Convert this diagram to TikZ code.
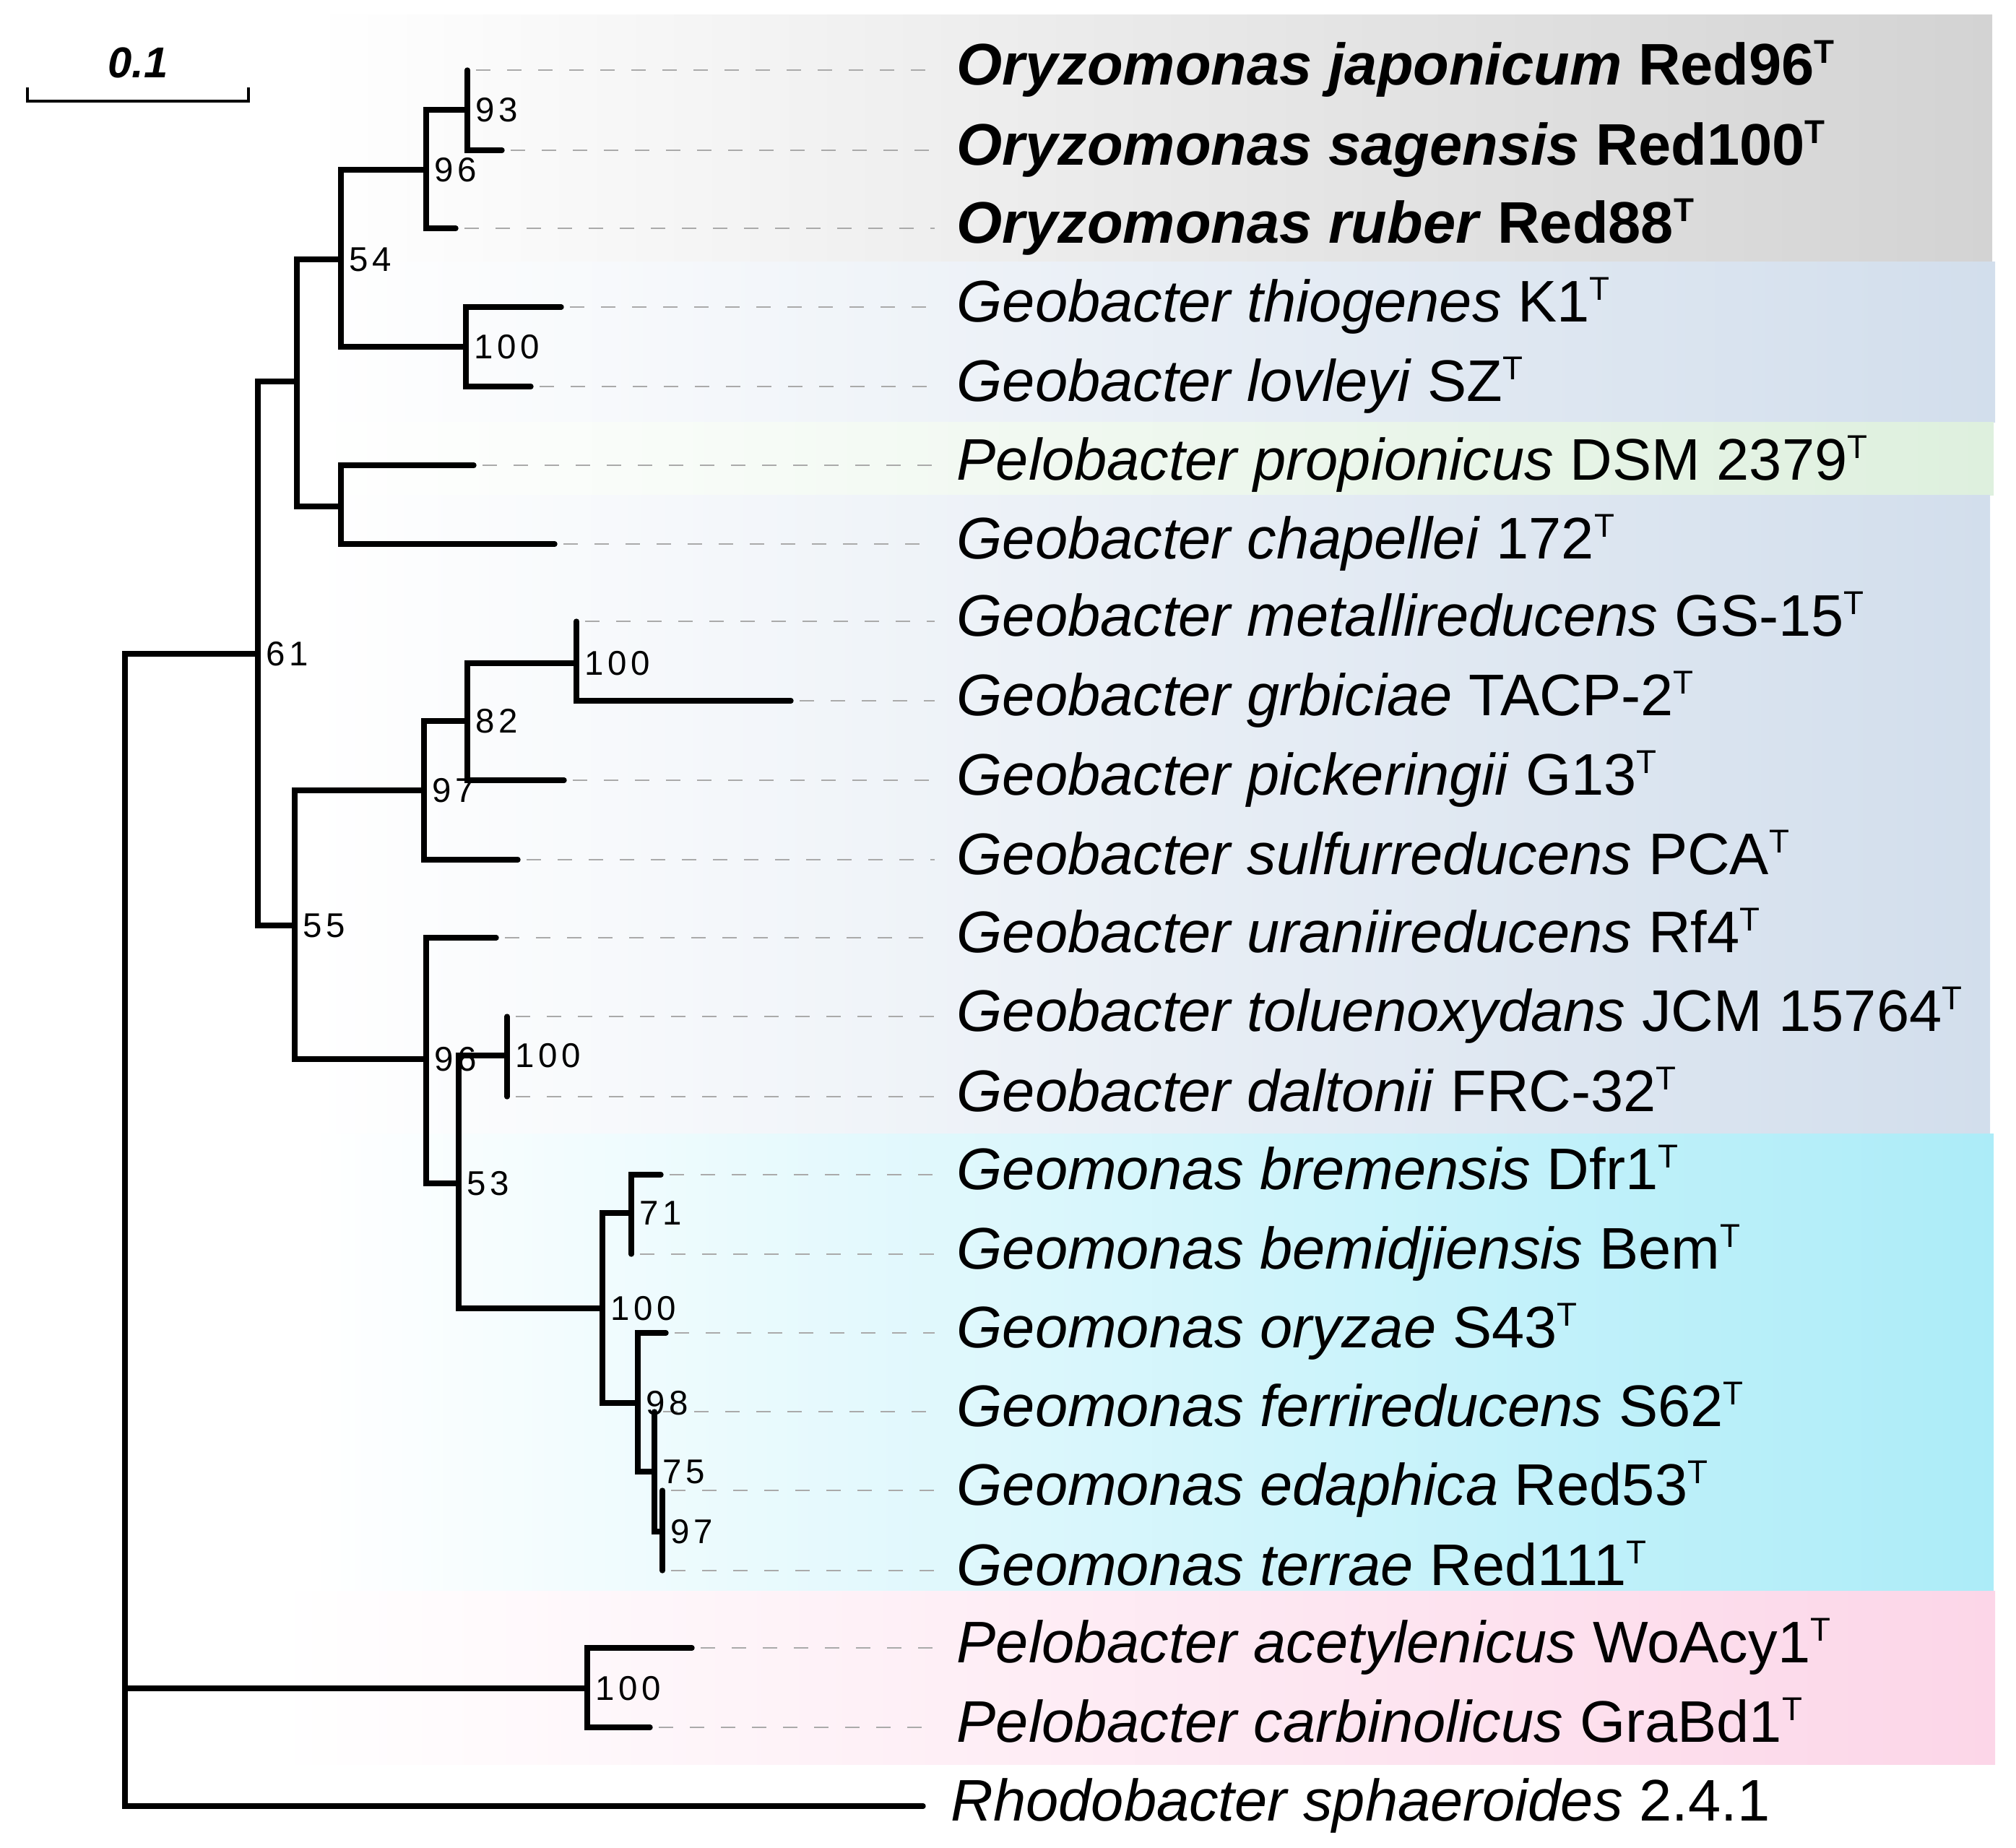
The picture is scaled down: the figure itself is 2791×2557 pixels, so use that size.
\documentclass[tikz,border=0pt]{standalone}
\usepackage{fontspec}
\setmainfont{Liberation Sans}
\newfontfamily\bootfont[LetterSpace=12]{Liberation Sans}
\usepackage{xcolor}
\usepackage{tikz}

\definecolor{oryzoband}{RGB}{211,211,211}
\definecolor{geobacband}{RGB}{210,222,236}
\definecolor{propioband}{RGB}{222,240,222}
\definecolor{geomonband}{RGB}{172,236,248}
\definecolor{peloband}{RGB}{252,214,232}
\definecolor{leadgray}{RGB}{170,170,170}

\newcommand{\typestr}{\raisebox{0.36em}{\fontsize{13}{13}\selectfont T}}

\begin{document}
\begin{tikzpicture}[
        x=0.01cm, y=-0.01cm,
        branch/.style={line width=2.1pt, line cap=round},
        leader/.style={draw=leadgray, line width=0.6pt, dash pattern=on 0.2cm off 0.23cm, shorten <=0.12cm, shorten >=0.3cm},
        leaf/.style={anchor=base west, inner sep=0pt, yshift=-0.2cm, font=\fontsize{23.1}{27}\selectfont},
        boot/.style={anchor=west, inner sep=0pt, xshift=0.11cm, font=\bootfont\fontsize{13.5}{15}\selectfont},
        scalebar/.style={line width=1.1pt}
        ]
        \useasboundingbox (0,0) rectangle (2791,2557);

        % Clade backgrounds
        \shade[left color=white, right color=oryzoband] (430,20) rectangle (2758,362);
        \shade[left color=white, right color=geobacband] (430,362) rectangle (2762,584);
        \shade[left color=white, right color=propioband] (430,584) rectangle (2760,685);
        \shade[left color=white, right color=geobacband] (430,685) rectangle (2755,1569);
        \shade[left color=white, right color=geomonband] (430,1569) rectangle (2760,2202);
        \shade[left color=white, right color=peloband] (380,2202) rectangle (2762,2442);

        % Scale bar
        \draw[scalebar] (38,121) |- (344,140) -- (344,121);
        \node[font=\bfseries\itshape\fontsize{17}{20}\selectfont] (scale) at (191,87) {0.1};

        % Leaf tips
        \coordinate (t1) at (647,97);
        \coordinate (t2) at (695,208);
        \coordinate (t3) at (631,316);
        \coordinate (t4) at (777,425);
        \coordinate (t5) at (735,535);
        \coordinate (t6) at (656,644);
        \coordinate (t7) at (768,753);
        \coordinate (t8) at (798,860);
        \coordinate (t9) at (1095,970);
        \coordinate (t10) at (781,1080);
        \coordinate (t11) at (717,1190);
        \coordinate (t12) at (687,1298);
        \coordinate (t13) at (702,1407);
        \coordinate (t14) at (702,1518);
        \coordinate (t15) at (915,1626);
        \coordinate (t16) at (874,1736);
        \coordinate (t17) at (922,1845);
        \coordinate (t18) at (906,1954);
        \coordinate (t19) at (917,2063);
        \coordinate (t20) at (917,2174);
        \coordinate (t21) at (958,2281);
        \coordinate (t22) at (900,2391);
        \coordinate (t23) at (1278,2500);

        % Internal nodes
        \coordinate (n93) at (647,152);
        \coordinate (n96a) at (590,235);
        \coordinate (n100a) at (645,480);
        \coordinate (n54) at (472,359);
        \coordinate (nPC) at (472,701);
        \coordinate (nA) at (411,528);
        \coordinate (n100b) at (798,918);
        \coordinate (n82) at (647,998);
        \coordinate (n97a) at (587,1094);
        \coordinate (n100c) at (702,1461);
        \coordinate (n71) at (874,1679);
        \coordinate (n97b) at (917,2120);
        \coordinate (n75) at (906,2037);
        \coordinate (n98) at (883,1942);
        \coordinate (n100d) at (834,1811);
        \coordinate (n53) at (635,1638);
        \coordinate (n96b) at (590,1466);
        \coordinate (n55) at (408,1281);
        \coordinate (n61) at (357,905);
        \coordinate (nPel) at (813,2337);
        \coordinate (root) at (173,2337);

        % Taxa
        \node[leaf] (l1) at (1324,97) {\textbf{\textit{Oryzomonas japonicum} Red96\typestr}};
        \node[leaf] (l2) at (1324,208) {\textbf{\textit{Oryzomonas sagensis} Red100\typestr}};
        \node[leaf] (l3) at (1324,316) {\textbf{\textit{Oryzomonas ruber} Red88\typestr}};
        \node[leaf] (l4) at (1324,425) {\textit{Geobacter thiogenes} K1\typestr};
        \node[leaf] (l5) at (1324,535) {\textit{Geobacter lovleyi} SZ\typestr};
        \node[leaf] (l6) at (1324,644) {\textit{Pelobacter propionicus} DSM 2379\typestr};
        \node[leaf] (l7) at (1324,753) {\textit{Geobacter chapellei} 172\typestr};
        \node[leaf] (l8) at (1324,860) {\textit{Geobacter metallireducens} GS-15\typestr};
        \node[leaf] (l9) at (1324,970) {\textit{Geobacter grbiciae} TACP-2\typestr};
        \node[leaf] (l10) at (1324,1080) {\textit{Geobacter pickeringii} G13\typestr};
        \node[leaf] (l11) at (1324,1190) {\textit{Geobacter sulfurreducens} PCA\typestr};
        \node[leaf] (l12) at (1324,1298) {\textit{Geobacter uraniireducens} Rf4\typestr};
        \node[leaf] (l13) at (1324,1407) {\textit{Geobacter toluenoxydans} JCM 15764\typestr};
        \node[leaf] (l14) at (1324,1518) {\textit{Geobacter daltonii} FRC-32\typestr};
        \node[leaf] (l15) at (1324,1626) {\textit{Geomonas bremensis} Dfr1\typestr};
        \node[leaf] (l16) at (1324,1736) {\textit{Geomonas bemidjiensis} Bem\typestr};
        \node[leaf] (l17) at (1324,1845) {\textit{Geomonas oryzae} S43\typestr};
        \node[leaf] (l18) at (1324,1954) {\textit{Geomonas ferrireducens} S62\typestr};
        \node[leaf] (l19) at (1324,2063) {\textit{Geomonas edaphica} Red53\typestr};
        \node[leaf] (l20) at (1324,2174) {\textit{Geomonas terrae} Red111\typestr};
        \node[leaf] (l21) at (1324,2281) {\textit{Pelobacter acetylenicus} WoAcy1\typestr};
        \node[leaf] (l22) at (1324,2391) {\textit{Pelobacter carbinolicus} GraBd1\typestr};
        \node[leaf] (l23) at (1316,2500) {\textit{Rhodobacter sphaeroides} 2.4.1};

        % Dashed leaders
        \foreach \i in {1,...,22}
            \draw[leader] (t\i) -- (t\i -| l\i.west);

        % Bootstrap values
        \foreach \n/\v in {n93/93, n96a/96, n54/54, n100a/100, n61/61, n100b/100, n82/82, n97a/97, n55/55,
                n96b/96, n100c/100, n53/53, n71/71, n100d/100, n98/98, n75/75, n97b/97, nPel/100}
            \node[boot] (b-\n) at (\n) {\v};

        % Branches
        \draw[branch] (t1) -| (n93) |- (t2);
        \draw[branch] (n93) -| (n96a) |- (t3);
        \draw[branch] (t4) -| (n100a) |- (t5);
        \draw[branch] (n96a) -| (n54) |- (n100a);
        \draw[branch] (t6) -| (nPC) |- (t7);
        \draw[branch] (n54) -| (nA) |- (nPC);
        \draw[branch] (t8) -| (n100b) |- (t9);
        \draw[branch] (n100b) -| (n82) |- (t10);
        \draw[branch] (n82) -| (n97a) |- (t11);
        \draw[branch] (t13) -| (n100c) |- (t14);
        \draw[branch] (t15) -| (n71) |- (t16);
        \draw[branch] (t19) -| (n97b) |- (t20);
        \draw[branch] (t18) -| (n75) |- (n97b);
        \draw[branch] (t17) -| (n98) |- (n75);
        \draw[branch] (n71) -| (n100d) |- (n98);
        \draw[branch] (n100c) -| (n53) |- (n100d);
        \draw[branch] (t12) -| (n96b) |- (n53);
        \draw[branch] (n97a) -| (n55) |- (n96b);
        \draw[branch] (nA) -| (n61) |- (n55);
        \draw[branch] (t21) -| (nPel) |- (t22);
        \draw[branch] (n61) -| (root) -- (nPel);
        \draw[branch] (root) |- (t23);
    \end{tikzpicture}
\end{document}
